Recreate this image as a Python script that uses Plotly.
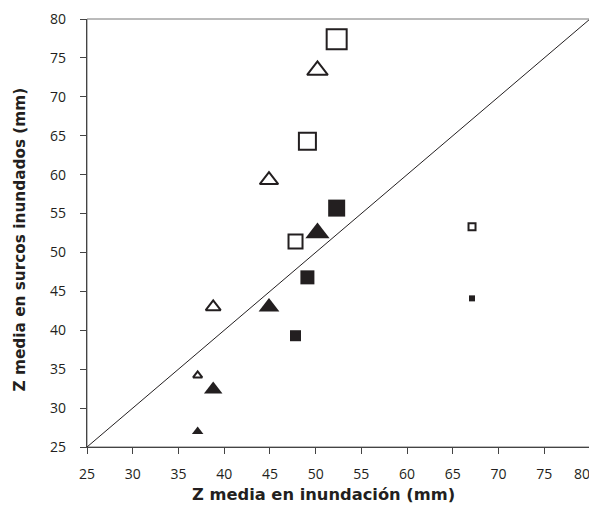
import plotly.graph_objects as go

# Open squares
open_sq_x = [52.3, 49.1, 47.8, 67.1]
open_sq_y = [77.4, 64.3, 51.4, 53.3]
open_sq_size = [20, 17, 14, 7]
# Filled squares
fill_sq_x = [52.3, 49.1, 47.8, 67.1]
fill_sq_y = [55.7, 46.8, 39.3, 44.1]
fill_sq_size = [17, 14, 11, 6]
# Open triangles
open_tr_x = [50.2, 44.9, 38.8, 37.1]
open_tr_y = [73.4, 59.3, 43.0, 34.2]
open_tr_size = [18, 16, 13, 8]
# Filled triangles
fill_tr_x = [50.2, 44.9, 38.8, 37.1]
fill_tr_y = [52.5, 43.0, 32.4, 27.0]
fill_tr_size = [21, 18, 16, 10]

ticks = [25, 30, 35, 40, 45, 50, 55, 60, 65, 70, 75, 80]
x_title = "Z media en inundación (mm)"
y_title = "Z media en surcos inundados (mm)"
INK = "#231f20"
TICKFONT = dict(family="Open Sans, sans-serif", size=14, color=INK)

fig = go.Figure()
fig.add_trace(go.Scatter(x=[25, 80], y=[25, 80], mode="lines",
                         line=dict(color=INK, width=1), hoverinfo="skip"))
fig.add_trace(go.Scatter(x=open_sq_x, y=open_sq_y, mode="markers",
                         marker=dict(symbol="square-open", size=open_sq_size, color=INK, opacity=1,
                                     line=dict(width=2, color=INK))))
fig.add_trace(go.Scatter(x=fill_sq_x, y=fill_sq_y, mode="markers",
                         marker=dict(symbol="square", size=fill_sq_size, color=INK, opacity=1,
                                     line=dict(width=0))))
fig.add_trace(go.Scatter(x=open_tr_x, y=open_tr_y, mode="markers",
                         marker=dict(symbol="triangle-up-open", size=open_tr_size, color=INK, opacity=1,
                                     line=dict(width=2, color=INK))))
fig.add_trace(go.Scatter(x=fill_tr_x, y=fill_tr_y, mode="markers",
                         marker=dict(symbol="triangle-up", size=fill_tr_size, color=INK, opacity=1,
                                     line=dict(width=0))))

axis_common = dict(range=[25, 80], tickvals=ticks,
                   showgrid=False, zeroline=False, showline=True, linecolor="#444444",
                   linewidth=1.2, ticks="outside", ticklen=6, tickcolor="#444444",
                   automargin=False, ticklabeloverflow="allow", tickfont=TICKFONT)

x_ticktext = [str(t) for t in ticks[:-1]] + [""]
y_ticktext = [str(t) for t in ticks]

fig.update_layout(
    width=589, height=497,
    margin=dict(l=79, r=7, t=11, b=58),
    paper_bgcolor="white", plot_bgcolor="white",
    showlegend=False,
    xaxis=dict(**axis_common, ticktext=x_ticktext, ticklabelstandoff=8),
    yaxis=dict(**axis_common, ticktext=y_ticktext, ticklabelstandoff=11),
    shapes=[dict(type="rect", xref="paper", yref="paper", x0=0, y0=0, x1=1, y1=1,
                 line=dict(color="#777777", width=1), layer="below")],
    annotations=[
        dict(text=str(ticks[-1]), xref="x", yref="paper", x=ticks[-1], y=0,
             yshift=-26, xshift=2, xanchor="right", yanchor="middle", showarrow=False,
             font=TICKFONT),
        dict(text="<b>" + x_title + "</b>", xref="paper", yref="paper", x=0.47, y=0,
             yshift=-47, xanchor="center", yanchor="middle", showarrow=False,
             font=dict(family="DejaVu Sans, sans-serif", size=16.3, color=INK)),
        dict(text="<b>" + y_title + "</b>", xref="paper", yref="paper", x=0, y=0.485,
             xshift=-67, xanchor="center", yanchor="middle", showarrow=False, textangle=-90,
             font=dict(family="DejaVu Sans, sans-serif", size=15.3, color=INK)),
    ],
)

fig.write_html("out.html")
